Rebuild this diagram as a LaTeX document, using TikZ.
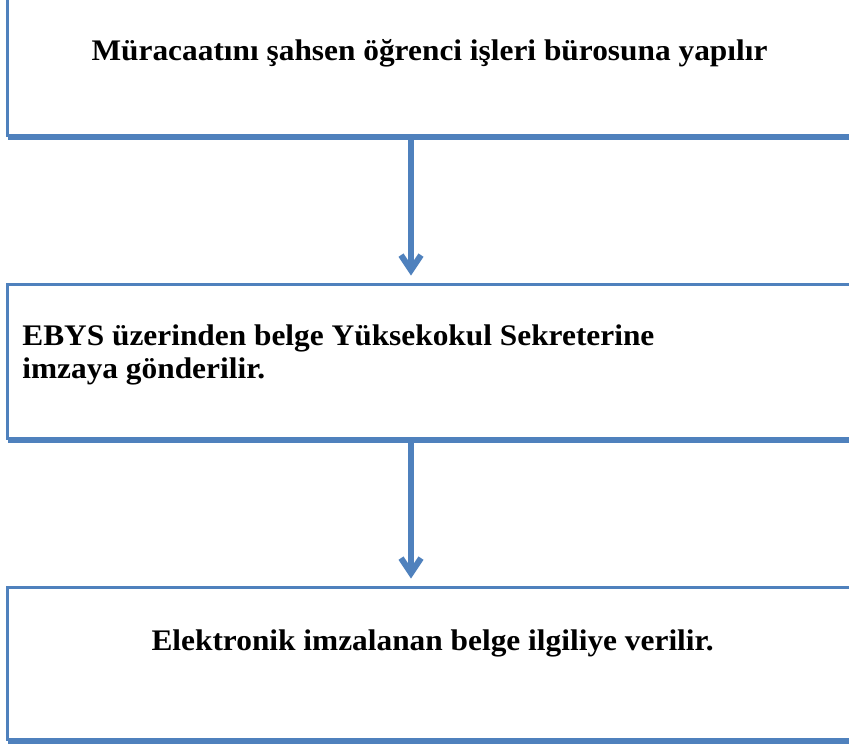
\documentclass[tikz,border=0pt]{standalone}
\usepackage{fontspec}
\setmainfont{Liberation Serif}[FakeStretch=1.05]
\usetikzlibrary{arrows.meta,shadows}
\definecolor{stepblue}{RGB}{79,129,189}
\tikzset{
  stepbox/.style={draw=stepblue, fill=white, line width=0.06cm, rectangle, inner sep=0pt,
    minimum width=17.01cm,
    drop shadow={shadow xshift=0cm, shadow yshift=-0.09cm, fill=stepblue, opacity=1}},
  steptext/.style={font=\bfseries\fontsize{17}{18.7}\selectfont, inner sep=0pt},
  flowarrow/.style={draw=stepblue, line width=0.12cm,
    -{Straight Barb[length=0.3cm,width=0.4cm]}, shorten >=0.15cm}
}
\begin{document}
\begin{tikzpicture}
    \useasboundingbox (0,0) rectangle (16.98,-14.88);

    \coordinate (arrowx) at (8.22,0);

    \node[stepbox, minimum height=2.91cm] (muracaat) at (8.655,-1.255) {};
    \node[stepbox, minimum height=3.08cm] (ebys)     at (8.655,-7.23) {};
    \node[stepbox, minimum height=3.04cm] (imza)     at (8.655,-13.27) {};

    \node[steptext, anchor=base] (muracaattext) at (8.59,-1.2)
      {Müracaatını şahsen öğrenci işleri bürosuna yapılır};
    \node[steptext, anchor=base west, align=left] (ebystext) at (0.44,-7.56)
      {EBYS üzerinden belge Yüksekokul Sekreterine\\imzaya gönderilir.};
    \node[steptext, anchor=base] (imzatext) at (8.65,-13.0)
      {Elektronik imzalanan belge ilgiliye verilir.};

    \draw[flowarrow] (muracaat.south -| arrowx) -- (ebys.north -| arrowx);
    \draw[flowarrow] (ebys.south -| arrowx) -- (imza.north -| arrowx);
\end{tikzpicture}
\end{document}
